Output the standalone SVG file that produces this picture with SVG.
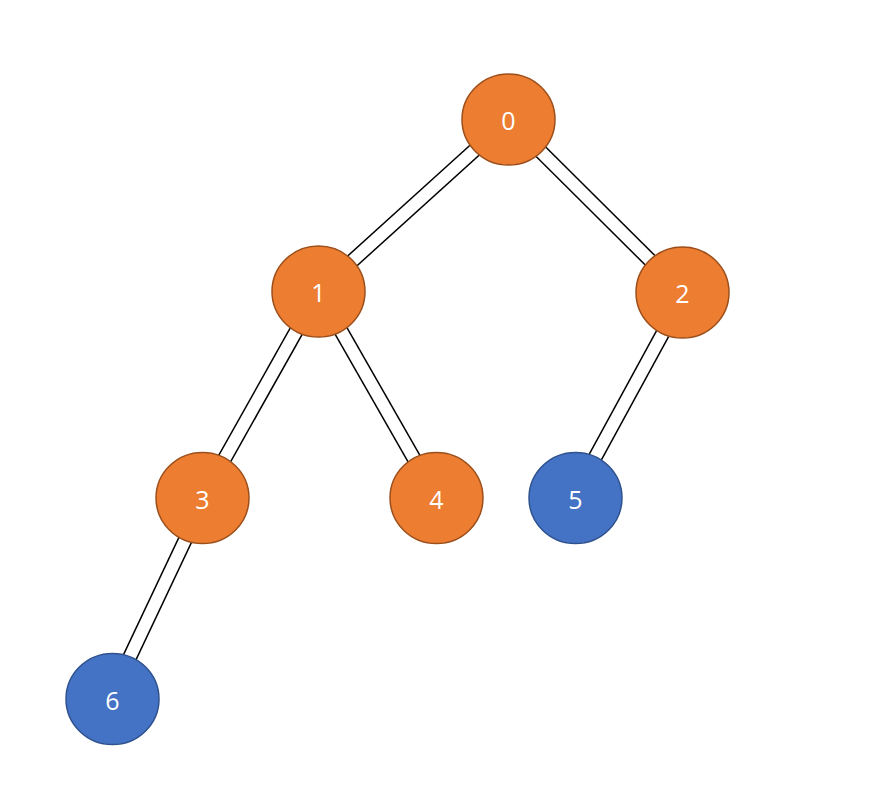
<svg xmlns="http://www.w3.org/2000/svg" width="872" height="801" viewBox="0 0 872 801">
<style>
.o{fill:#ED7D31;stroke:#9C4F1B;stroke-width:1.5}
.b{fill:#4472C4;stroke:#2F528F;stroke-width:1.5}
.t{fill:#fff;font-family:"Open Sans","Noto Sans",sans-serif;font-size:25px;text-anchor:middle;dominant-baseline:central}
.e1{stroke:#000;stroke-width:15;fill:none}
.e2{stroke:#fff;stroke-width:12;fill:none}
</style>
<rect width="872" height="801" fill="#fff"/>
<g id="connectors">
<g><line class="e1" x1="508.5" y1="119.5" x2="318.5" y2="291.5"/><line class="e2" x1="508.5" y1="119.5" x2="318.5" y2="291.5"/></g>
<g><line class="e1" x1="508.5" y1="119.5" x2="682.5" y2="292.5"/><line class="e2" x1="508.5" y1="119.5" x2="682.5" y2="292.5"/></g>
<g><line class="e1" x1="318.5" y1="291.5" x2="202.5" y2="498"/><line class="e2" x1="318.5" y1="291.5" x2="202.5" y2="498"/></g>
<g><line class="e1" x1="318.5" y1="291.5" x2="436.5" y2="498"/><line class="e2" x1="318.5" y1="291.5" x2="436.5" y2="498"/></g>
<g><line class="e1" x1="685" y1="292.5" x2="573" y2="498"/><line class="e2" x1="685" y1="292.5" x2="573" y2="498"/></g>
<g><line class="e1" x1="205" y1="498" x2="110" y2="699"/><line class="e2" x1="205" y1="498" x2="110" y2="699"/></g>
</g>
<g id="n0"><ellipse class="o" cx="508.5" cy="119.5" rx="46.5" ry="45.5"/><text class="t" x="508.5" y="120">0</text></g>
<g id="n1"><ellipse class="o" cx="318.5" cy="291.5" rx="46.5" ry="45.5"/><text class="t" x="318.5" y="292">1</text></g>
<g id="n2"><ellipse class="o" cx="682.5" cy="292.5" rx="46.5" ry="45.5"/><text class="t" x="682.5" y="293">2</text></g>
<g id="n3"><ellipse class="o" cx="202.5" cy="498" rx="46.5" ry="45.5"/><text class="t" x="202.5" y="498.5">3</text></g>
<g id="n4"><ellipse class="o" cx="436.5" cy="498" rx="46.5" ry="45.5"/><text class="t" x="436.5" y="498.5">4</text></g>
<g id="n5"><ellipse class="b" cx="575.5" cy="498" rx="46.5" ry="45.5"/><text class="t" x="575.5" y="498.5">5</text></g>
<g id="n6"><ellipse class="b" cx="112.5" cy="699" rx="46.5" ry="45.5"/><text class="t" x="112.5" y="699.5">6</text></g>
</svg>
